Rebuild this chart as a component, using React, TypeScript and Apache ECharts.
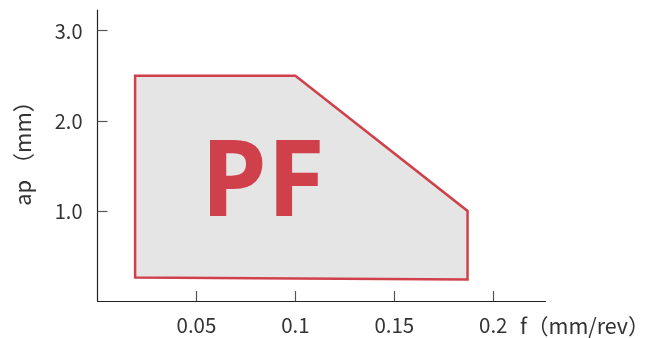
import React, { useEffect, useRef } from "react";
import * as echarts from "echarts";

const fValues = [0.019, 0.1, 0.187, 0.187, 0.019];
const apValues = [2.5, 2.5, 1.0, 0.24, 0.26];
const xTicks = [0.05, 0.1, 0.15, 0.2];
const yTicks = [1.0, 2.0, 3.0];
const regionLabel = "PF";
const xName = "f（mm/rev）";
const yName = "ap （mm）";

const FONT = "'Noto Sans CJK JP', 'Noto Sans', sans-serif";
const RED = "#d0404a";

export default function App() {
  const ref = useRef<HTMLDivElement>(null);
  useEffect(() => {
    if (!ref.current) return;
    const chart = echarts.init(ref.current, undefined, { renderer: "svg" });
    const vertices = fValues.map((f, i) => [f, apValues[i]]);
    chart.setOption({
      animation: false,
      grid: { left: 97.5, right: 105.5, top: 10, bottom: 37 },
      xAxis: {
        type: "value",
        min: 0,
        max: 0.2264,
        splitLine: { show: false },
        axisLine: { show: true, lineStyle: { color: "#222", width: 1.2 } },
        axisTick: {
          show: true,
          inside: true,
          length: 10,
          customValues: xTicks,
          lineStyle: { color: "#555", width: 1.2 },
        },
        axisLabel: {
          customValues: xTicks,
          margin: 13,
          fontSize: 20.5,
          color: "#333",
          fontFamily: FONT,
          formatter: (v: number) => String(v),
        },
      },
      yAxis: {
        type: "value",
        min: 0,
        max: 3.23,
        splitLine: { show: false },
        axisLine: { show: true, lineStyle: { color: "#222", width: 1.2 } },
        axisTick: {
          show: true,
          inside: true,
          length: 10,
          customValues: yTicks,
          lineStyle: { color: "#555", width: 1.2 },
        },
        axisLabel: {
          customValues: yTicks,
          margin: 15,
          fontSize: 20,
          color: "#333",
          fontFamily: FONT,
          formatter: (v: number) => v.toFixed(1),
        },
      },
      graphic: [
        {
          type: "text",
          x: 263,
          y: 175,
          style: {
            text: regionLabel,
            fontSize: 106,
            fontWeight: "bold",
            fontFamily: "'Noto Sans', sans-serif",
            fill: RED,
            align: "center",
            verticalAlign: "middle",
          },
          z: 10,
        },
        {
          type: "text",
          x: 520,
          y: 324,
          style: {
            text: xName,
            fontSize: 21.5,
            fontFamily: FONT,
            fill: "#333",
            align: "left",
            verticalAlign: "middle",
          },
        },
        {
          type: "text",
          x: 21,
          y: 148,
          rotation: Math.PI / 2,
          style: {
            text: yName,
            fontSize: 22,
            fontFamily: FONT,
            fill: "#333",
            align: "center",
            verticalAlign: "middle",
          },
        },
      ],
      series: [
        {
          type: "custom",
          data: vertices,
          renderItem: (params: any, api: any) => {
            if (params.dataIndex !== 0) return null;
            const pts = vertices.map((v) => api.coord(v));
            return {
              type: "polygon",
              shape: { points: pts },
              style: { fill: "#e5e5e5", stroke: RED, lineWidth: 2.5 },
            };
          },
        },
      ],
    });
    return () => chart.dispose();
  }, []);
  return (
    <div
      ref={ref}
      style={{ position: "fixed", left: 0, top: 0, width: 651, height: 338 }}
    />
  );
}
